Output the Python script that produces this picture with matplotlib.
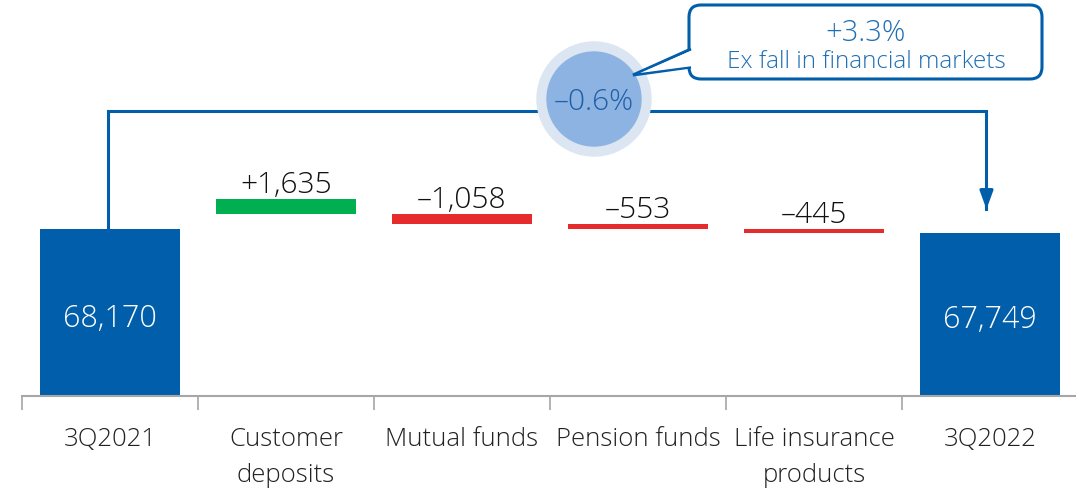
import matplotlib
matplotlib.use("Agg")
import matplotlib.pyplot as plt
from matplotlib.patches import Circle, FancyBboxPatch, Polygon
import numpy as np

categories = ["3Q2021", "Customer\ndeposits", "Mutual funds", "Pension funds", "Life insurance\nproducts", "3Q2022"]
start_value = 68170
end_value = 67749
changes = [1635, -1058, -553, -445]
change_labels = ["+1,635", "\u20131,058", "\u2013553", "\u2013445"]
total_labels = ["68,170", "67,749"]
overall_change = "\u20130.6%"
ex_change = "+3.3%"
ex_note = "Ex fall in financial markets"

BLUE = "#005EAA"
GREEN = "#00B050"
RED = "#E52B2B"
FONT = ["Open Sans", "DejaVu Sans"]
WT = "light"
plt.rcParams['font.family'] = FONT

W, H = 1076, 489
fig = plt.figure(figsize=(W / 100, H / 100), dpi=100)
ax = fig.add_axes([22 / W, 92 / H, 1056 / W, 397 / H])
ax.set_xlim(-0.5, 5.5)
ax.set_ylim(50000, 50000 + 397 * 109)
for s in ["top", "right", "left"]:
    ax.spines[s].set_visible(False)
ax.spines["bottom"].set_color("#A6A6A6")
ax.spines["bottom"].set_linewidth(1.5)
ax.set_yticks([])
ax.set_xticks(np.arange(-0.5, 6.0, 1.0))
ax.set_xticklabels([])
ax.tick_params(axis="x", length=10, width=1.2, color="#A6A6A6")

bw = 0.8
# totals
ax.bar([0, 5], [start_value - 50000, end_value - 50000], bottom=50000, width=bw, color=BLUE, zorder=2)
for xi, v, lab in zip([0, 5], [start_value, end_value], total_labels):
    ax.text(xi, 50000 + (v - 50000) * 0.47, lab, ha="center", va="center", color="white",
            fontsize=22, fontweight=WT)

# changes
cum = np.cumsum([start_value] + changes)
for i, d in enumerate(changes):
    xi = i + 1
    bottom = cum[i + 1]
    col = GREEN if d > 0 else RED
    ax.bar(xi, abs(d), bottom=bottom, width=bw, color=col, zorder=2)
    ax.text(xi, bottom + abs(d) + 50, change_labels[i], ha="center", va="bottom",
            fontsize=21.5, fontweight=WT, color="#111111")

# category labels
for xi, lab in enumerate(categories):
    ax.text(xi, 50000 - 3250, lab, ha="center", va="top", fontsize=18.5, fontweight=WT,
            color="#222222", linespacing=1.6)

# connector
level = 50000 + (397 - 112) * 109
ax.plot([-0.01, -0.01, 5.0 - 0.02, 5.0 - 0.02], [start_value, level, level, end_value + 2600],
        color=BLUE, lw=2.2, solid_joinstyle="miter", zorder=3)
ax.annotate("", xy=(4.98, end_value + 2600), xytext=(4.98, end_value + 3200),
            arrowprops=dict(arrowstyle="-|>,head_width=0.4,head_length=1.1", color=BLUE, lw=2.2),
            zorder=4)

# overlay in pixel coordinates
ov = fig.add_axes([0, 0, 1, 1])
ov.set_xlim(0, W)
ov.set_ylim(H, 0)
ov.axis("off")
ov.patch.set_alpha(0)

ov.add_patch(Circle((594, 100), 57, color="#DCE6F2", zorder=5))
ov.add_patch(Circle((594, 100), 47, color="#8DB3E2", zorder=6))
ov.text(594, 102, overall_change, ha="center", va="center", fontsize=21.5, fontweight=WT,
        color="#1F5FA8", zorder=7)

box = FancyBboxPatch((689, 6), 353, 74, boxstyle="round,pad=0,rounding_size=12",
                     fc="white", ec=BLUE, lw=2.2, zorder=5)
ov.add_patch(box)
tail = Polygon([[691, 50], [633, 76], [691, 68]], closed=False, fc="white", ec=BLUE, lw=2.2,
               zorder=6, joinstyle="miter")
ov.add_patch(tail)
ov.add_patch(Polygon([[693, 51], [640, 74], [693, 67]], closed=True, fc="white", ec="none", zorder=6.5))
ov.text(866, 33, ex_change, ha="center", va="center", fontsize=21, fontweight=WT,
        color="#1F6FB5", zorder=7)
ov.text(866, 62, ex_note, ha="center", va="center", fontsize=17.5, fontweight=WT,
        color="#1F6FB5", zorder=7)

fig.savefig("out.png", dpi=100)
